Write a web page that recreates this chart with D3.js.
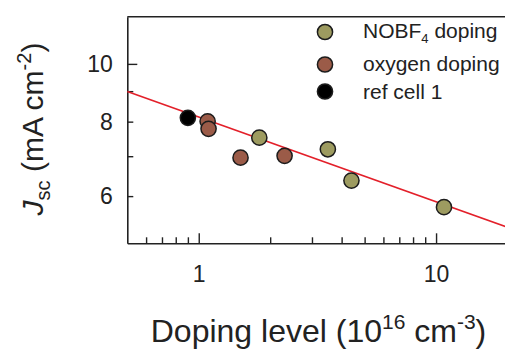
<!DOCTYPE html>
<html>
<head>
<meta charset="utf-8">
<script src="https://cdn.jsdelivr.net/npm/d3@7"></script>
<style>
  body { margin: 0; background: #fff; }
  svg { display: block; font-family: "Liberation Sans", Arial, sans-serif; }
</style>
</head>
<body>
<svg id="chart" width="505" height="354"></svg>
<script>
// data
const nobfX = [1.8, 3.5, 4.4, 10.8];
const nobfY = [7.52, 7.19, 6.37, 5.75];
const oxyX  = [1.09, 1.10, 1.5, 2.3];
const oxyY  = [8.01, 7.78, 6.96, 7.01];
const refX  = [0.9];
const refY  = [8.12];

// power-law fit, drawn as a straight line on log-log axes
const fitX = [0.5, 20];
const fitY = [8.99, 5.32];

const xTicks = [0.6, 0.7, 0.8, 0.9, 1, 2, 3, 4, 5, 6, 7, 8, 9, 10];
const xMajor = [1, 10];
const yTicks = [6, 7, 8, 9, 10];
const yLabels = [6, 8, 10];
const yMajor = [10];

const COLORS = { nobf: "#9d9b60", oxy: "#9b5b48", ref: "#000000" };
const INK = "#222";

const svg = d3.select("#chart");
const plot = { left: 127.3, right: 507.5, top: 16.7, bottom: 243.3 };

const x = d3.scaleLog().domain([0.5, 20]).range([plot.left, plot.right]);
const y = d3.scaleLog().domain([5, 12]).range([plot.bottom, plot.top]);

// ── Axes ───────────────────────────────────────────────────────────────
const xAxis = svg.append("g")
    .attr("transform", `translate(0,${plot.bottom})`)
    .call(d3.axisBottom(x).tickValues(xTicks).tickSize(-6).tickSizeOuter(0)
        .tickPadding(22)
        .tickFormat(d => xMajor.includes(d) ? d : ""));
xAxis.selectAll(".tick line").attr("y2", d => xMajor.includes(d) ? -10 : -6);

const yAxis = svg.append("g")
    .attr("transform", `translate(${plot.left},0)`)
    .call(d3.axisLeft(y).tickValues(yTicks).tickSize(-6).tickSizeOuter(0)
        .tickPadding(14.5)
        .tickFormat(d => yLabels.includes(d) ? d : ""));
yAxis.selectAll(".tick line").attr("x2", d => yMajor.includes(d) ? 10 : 6);

[xAxis, yAxis].forEach(a => {
    a.select(".domain").attr("stroke", INK).attr("stroke-width", 1.6);
    a.selectAll(".tick line").attr("stroke", INK).attr("stroke-width", 1.4);
    a.selectAll(".tick text")
        .style("font-size", "23px")
        .style("font-family", "'Liberation Sans', Arial, sans-serif")
        .attr("fill", INK);
});

// top and right frame lines
svg.append("line")
    .attr("x1", plot.left).attr("x2", plot.right)
    .attr("y1", plot.top).attr("y2", plot.top)
    .attr("stroke", INK).attr("stroke-width", 1.6);
svg.append("line")
    .attr("x1", plot.right).attr("x2", plot.right)
    .attr("y1", plot.top).attr("y2", plot.bottom)
    .attr("stroke", INK).attr("stroke-width", 1.6);

// ── Fit line ───────────────────────────────────────────────────────────
const fitPts = fitX.map((d, i) => [d, fitY[i]]);
svg.append("path")
    .datum(fitPts)
    .attr("fill", "none")
    .attr("stroke", "#e3202a")
    .attr("stroke-width", 1.6)
    .attr("d", d3.line().x(d => x(d[0])).y(d => y(d[1])));

// ── Points ─────────────────────────────────────────────────────────────
function drawSeries(xs, ys, color) {
    svg.append("g").selectAll("circle")
        .data(xs.map((d, i) => [d, ys[i]]))
        .join("circle")
        .attr("cx", d => x(d[0]))
        .attr("cy", d => y(d[1]))
        .attr("r", 7.6)
        .attr("fill", color)
        .attr("stroke", "#1c1c1c")
        .attr("stroke-width", 1.5);
}
drawSeries(refX, refY, COLORS.ref);
drawSeries(nobfX, nobfY, COLORS.nobf);
drawSeries(oxyX, oxyY, COLORS.oxy);

// ── Legend ─────────────────────────────────────────────────────────────
const legend = [
    { color: COLORS.nobf, cy: 32, base: 37.7, label: "nobf" },
    { color: COLORS.oxy,  cy: 64.5, base: 71, label: "oxygen doping" },
    { color: COLORS.ref,  cy: 91.5, base: 99, label: "ref cell 1" }
];
legend.forEach(l => {
    svg.append("circle")
        .attr("cx", 325).attr("cy", l.cy).attr("r", 7.6)
        .attr("fill", l.color).attr("stroke", "#1c1c1c").attr("stroke-width", 1.5);
    const t = svg.append("text")
        .attr("x", 363).attr("y", l.base)
        .style("font-size", "21px").attr("fill", INK);
    if (l.label === "nobf") {
        t.append("tspan").text("NOBF");
        t.append("tspan").attr("dy", 5).style("font-size", "13px").text("4");
        t.append("tspan").attr("dy", -5).text(" doping");
    } else {
        t.text(l.label);
    }
});

// ── Axis titles ────────────────────────────────────────────────────────
const xt = svg.append("text")
    .attr("x", 318.5).attr("y", 342)
    .attr("text-anchor", "middle")
    .style("font-size", "32px").attr("fill", INK);
xt.append("tspan").text("Doping level (10");
xt.append("tspan").attr("dy", -13).style("font-size", "21px").text("16");
xt.append("tspan").attr("dy", 13).text(" cm");
xt.append("tspan").attr("dy", -13).style("font-size", "21px").text("-3");
xt.append("tspan").attr("dy", 13).text(")");

const yt = svg.append("text")
    .attr("transform", "translate(43,129) rotate(-90)")
    .attr("text-anchor", "middle")
    .style("font-size", "30px").attr("fill", INK);
yt.append("tspan").style("font-style", "italic").text("J");
yt.append("tspan").attr("dy", 7).style("font-size", "20px").text("sc");
yt.append("tspan").attr("dy", -7).text(" (mA cm");
yt.append("tspan").attr("dy", -12).style("font-size", "20px").text("-2");
yt.append("tspan").attr("dy", 12).text(")");
</script>
</body>
</html>
